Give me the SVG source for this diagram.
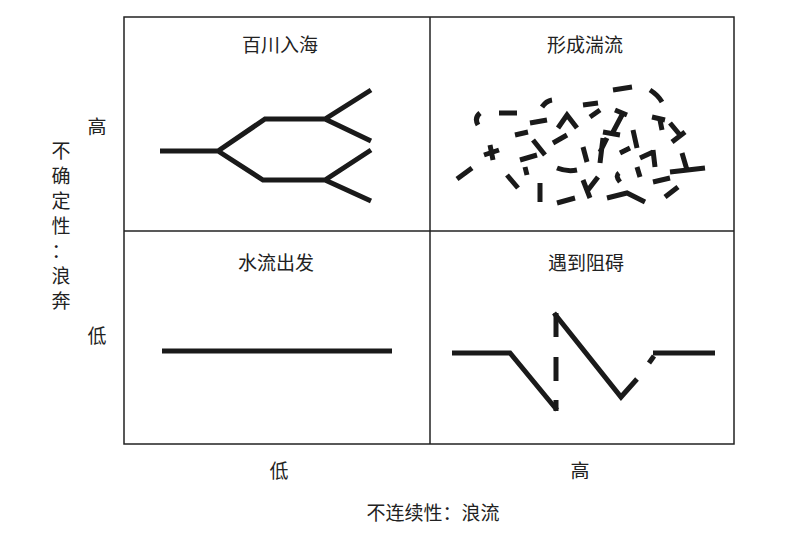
<svg xmlns="http://www.w3.org/2000/svg" width="787" height="539" viewBox="0 0 787 539">
<style>
text{font-family:"Noto Sans CJK SC","Noto Sans CJK JP",sans-serif;font-size:19px;fill:#222;text-anchor:middle}
.s{fill:none;stroke:#1a1a1a;stroke-width:5;stroke-linejoin:miter}
.d path{fill:none;stroke:#1a1a1a;stroke-width:5;stroke-linecap:butt}
</style>
<rect width="787" height="539" fill="#fff"/>
<g id="grid" fill="none" stroke="#222" stroke-width="1.5">
<rect x="124" y="17" width="610" height="427"/>
<line x1="430" y1="17" x2="430" y2="444"/>
<line x1="124" y1="231" x2="734" y2="231"/>
</g>
<g id="labels">
<text x="280" y="52">百川入海</text>
<text x="585" y="52">形成湍流</text>
<text x="276" y="270">水流出发</text>
<text x="586" y="270">遇到阻碍</text>
<text x="97" y="134">高</text>
<text x="97" y="343">低</text>
<text x="279" y="478">低</text>
<text x="580" y="478">高</text>
<text x="433" y="520">不连续性：浪流</text>
<text x="61" y="158">不</text>
<text x="61" y="183">确</text>
<text x="61" y="208">定</text>
<text x="61" y="233">性</text>
<text x="61" y="258">：</text>
<text x="61" y="283">浪</text>
<text x="61" y="308">奔</text>
</g>
<g id="connectors">
<g id="tree"><path class="s" d="M160 151H218L265 119H325L371 90M325 119L371 141M218 151L263 180H325L371 150M325 180L371 201"/></g>
<g id="flat"><path class="s" d="M162 351H392"/></g>
<g id="obstacle">
<path class="s" d="M452 353H510L557 410"/>
<path class="s" d="M556 313V337M556 357V381M556 400V411"/>
<path class="s" d="M554 313L621 397L637 379"/>
<path class="s" d="M649 363L654 356"/>
<path class="s" d="M653 353H715"/>
</g>
<g id="turbulence" class="d">
<path d="M478 125Q474 118 480 113M499 113H517M457 179L472 168M484 155L499 150M490 145L493 160M507 175L518 188M515 135L528 132M530 123L547 120M542 107Q546 101 552 100M533 140L545 155M520 160L537 155M525 167L527 175M540 183V202M557 203L575 198M557 168Q567 172 577 170M558 128L567 115L577 128M553 143L567 135M583 105L598 103M590 117L600 110M583 147L587 162M583 180L590 198M588 190L598 177M600 152L607 138M603 132L620 135M615 110L627 115M622 115L613 132M613 90L632 87M633 130L637 148M620 153L630 148M619 173Q615 176 620 182M607 198L627 193L645 202M637 167L640 177M640 158L653 152M653 150L655 167M650 90Q658 95 662 102M652 117L665 120M660 120L662 130M670 123L680 135M672 142L685 132M653 182L670 178M665 197L678 187M670 172L705 168M682 153L687 170M603 138L600 163"/>
</g>
</g>
</svg>
